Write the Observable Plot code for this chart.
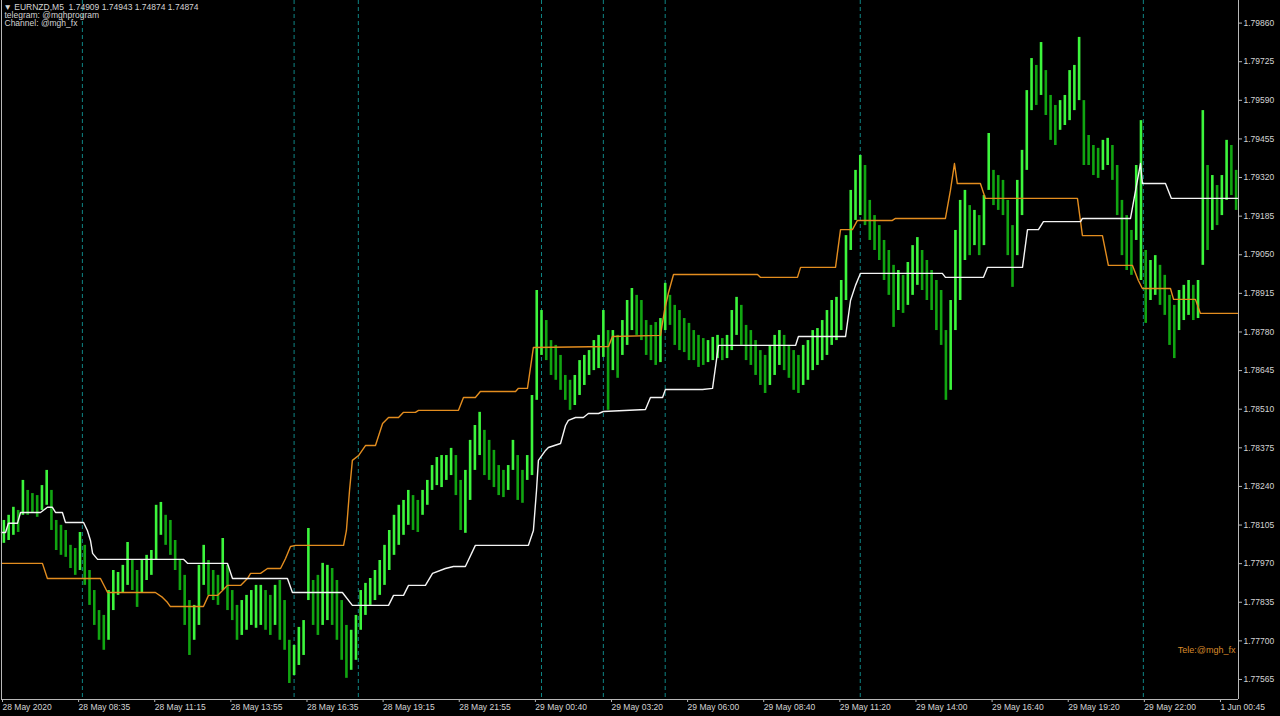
<!DOCTYPE html>
<html>
<head>
<meta charset="utf-8">
<script src="https://cdn.jsdelivr.net/npm/d3@7"></script>
<script src="https://cdn.jsdelivr.net/npm/@observablehq/plot@0.6"></script>
<style>
  html, body { margin: 0; padding: 0; background: #000; overflow: hidden; }
  #chart svg { display: block; }
</style>
</head>
<body>
<div id="chart"></div>
<script>
// ---- Data (EURNZD M5) ----
// Each entry aggregates two M5 bars; bar position = 2*i + 1 (in M5 bar units)
const barHigh = [
1.78121,1.78139,1.78167,1.78156,1.78261,1.78226,1.78215,1.78208,1.78243,1.78296,
1.78226,1.78121,1.78104,1.78086,1.78034,1.78023,1.78079,1.78034,1.77946,1.77876,
1.77806,1.77789,1.77876,1.77946,1.77939,1.77964,1.78044,1.77981,1.77946,1.77981,
1.77999,1.78016,1.78174,1.78184,1.78139,1.78121,1.78051,1.77981,1.77929,1.77841,
1.77824,1.77964,1.78034,1.77981,1.77946,1.77929,1.78058,1.77964,1.77876,1.77824,
1.77841,1.77859,1.77876,1.77894,1.77894,1.77876,1.77859,1.77894,1.77911,1.77841,
1.77702,1.77684,1.77747,1.77771,1.78093,1.77911,1.77929,1.77971,1.77964,1.77953,
1.77911,1.77841,1.77754,1.77737,1.77789,1.77876,1.77901,1.77918,1.77946,1.77981,
1.78034,1.78086,1.78139,1.78174,1.78191,1.78226,1.78208,1.78191,1.78226,1.78261,
1.78313,1.78341,1.78348,1.78348,1.78373,1.78348,1.78261,1.78296,1.78401,1.78453,
1.78499,1.78436,1.78401,1.78366,1.78313,1.78296,1.78313,1.78401,1.78348,1.78296,
1.78348,1.78558,1.78925,1.78855,1.78820,1.78750,1.78733,1.78698,1.78628,1.78611,
1.78628,1.78680,1.78698,1.78715,1.78750,1.78768,1.78855,1.78785,1.78785,1.78768,
1.78820,1.78890,1.78932,1.78908,1.78890,1.78820,1.78803,1.78813,1.78827,1.78950,
1.78908,1.78873,1.78855,1.78827,1.78810,1.78785,1.78768,1.78757,1.78750,1.78761,
1.78768,1.78757,1.78768,1.78855,1.78901,1.78873,1.78803,1.78785,1.78750,1.78715,
1.78698,1.78733,1.78768,1.78785,1.78768,1.78733,1.78715,1.78698,1.78733,1.78750,
1.78785,1.78792,1.78820,1.78855,1.78890,1.78901,1.78960,1.79117,1.79275,1.79345,
1.79397,1.79362,1.79240,1.79187,1.79152,1.79100,1.79065,1.79013,1.78995,1.78978,
1.79023,1.79082,1.79110,1.79065,1.79030,1.78995,1.78960,1.78925,1.78785,1.78890,
1.79135,1.79240,1.79275,1.79222,1.79205,1.79187,1.79257,1.79474,1.79345,1.79327,
1.79310,1.79240,1.79152,1.79310,1.79415,1.79624,1.79736,1.79712,1.79792,1.79694,
1.79607,1.79572,1.79589,1.79607,1.79694,1.79712,1.79810,1.79589,1.79467,1.79432,
1.79422,1.79450,1.79457,1.79432,1.79362,1.79240,1.79187,1.79135,1.79362,1.79519,
1.79065,1.79030,1.79047,1.79013,1.78978,1.78908,1.78873,1.78925,1.78943,1.78960,
1.78943,1.78960,1.79554,1.79362,1.79327,1.79292,1.79327,1.79450,1.79432,1.79345
];
const barLow = [
1.78041,1.78051,1.78069,1.78079,1.78139,1.78139,1.78149,1.78132,1.78156,1.78174,
1.78086,1.78016,1.77999,1.77992,1.77953,1.77929,1.77946,1.77894,1.77824,1.77754,
1.77702,1.77667,1.77702,1.77806,1.77859,1.77869,1.77894,1.77876,1.77817,1.77869,
1.77911,1.77929,1.77981,1.78069,1.78034,1.77999,1.77946,1.77876,1.77754,1.77649,
1.77702,1.77754,1.77894,1.77859,1.77841,1.77824,1.77876,1.77806,1.77771,1.77702,
1.77719,1.77737,1.77754,1.77744,1.77754,1.77737,1.77719,1.77754,1.77702,1.77667,
1.77551,1.77579,1.77614,1.77649,1.77841,1.77754,1.77719,1.77754,1.77771,1.77754,
1.77702,1.77632,1.77569,1.77597,1.77632,1.77737,1.77789,1.77824,1.77841,1.77859,
1.77894,1.77946,1.77999,1.78034,1.78069,1.78104,1.78086,1.78079,1.78139,1.78174,
1.78226,1.78243,1.78236,1.78261,1.78278,1.78208,1.78086,1.78076,1.78191,1.78296,
1.78348,1.78278,1.78261,1.78236,1.78208,1.78201,1.78226,1.78296,1.78191,1.78181,
1.78261,1.78278,1.78541,1.78698,1.78680,1.78628,1.78611,1.78576,1.78541,1.78506,
1.78523,1.78558,1.78593,1.78628,1.78645,1.78652,1.78691,1.78506,1.78645,1.78618,
1.78698,1.78733,1.78785,1.78768,1.78750,1.78698,1.78680,1.78663,1.78673,1.78785,
1.78803,1.78733,1.78715,1.78708,1.78680,1.78680,1.78656,1.78663,1.78673,1.78680,
1.78687,1.78680,1.78687,1.78715,1.78768,1.78733,1.78680,1.78663,1.78628,1.78593,
1.78565,1.78593,1.78628,1.78663,1.78645,1.78618,1.78576,1.78565,1.78593,1.78611,
1.78645,1.78663,1.78680,1.78698,1.78733,1.78750,1.78785,1.78890,1.79065,1.79170,
1.79187,1.79152,1.79100,1.79065,1.79030,1.78960,1.78908,1.78796,1.78855,1.78845,
1.78873,1.78908,1.78943,1.78925,1.78890,1.78855,1.78785,1.78733,1.78541,1.78576,
1.78785,1.78890,1.79030,1.79047,1.79082,1.79047,1.79082,1.79275,1.79222,1.79205,
1.79187,1.79047,1.78936,1.79047,1.79187,1.79345,1.79554,1.79572,1.79607,1.79537,
1.79450,1.79432,1.79485,1.79502,1.79519,1.79554,1.79589,1.79362,1.79362,1.79327,
1.79317,1.79345,1.79362,1.79310,1.79187,1.79047,1.78995,1.78978,1.79100,1.78960,
1.78810,1.78890,1.78908,1.78873,1.78838,1.78733,1.78687,1.78785,1.78820,1.78838,
1.78820,1.78827,1.79013,1.79065,1.79135,1.79152,1.79187,1.79240,1.79257,1.79205
];

// White indicator line: vertices (bar position, price)
const whiteBar = [0,1.7,2.9,6.7,8.0,16.4,19.3,21.4,22.7,25.6,26.9,34.5,36.1,37.4,38.3,40.4,76.5,78.2,95.0,97.1,
  120.2,122.3,143.3,147.5,162.7,164.8,169.0,171.1,178.2,181.2,186.6,190.0,195.0,199.2,221.5,223.6,224.9,225.7,228.7,229.9,
  235.0,237.1,238.3,241.3,244.6,246.7,251.0,253.0,270.7,272.8,277.9,279.1,294.7,298.9,301.4,333.8,335.0,354.8,356.9,359.0,
  361.1,395.5,396.8,412.8,414.5,429.2,431.3,435.9,438.0,453.6,454.4,474.6,477.1,478.8,479.6,489.3,491.8,519.6];
const whitePrice = [1.78079,1.78079,1.78111,1.78111,1.78149,1.78149,1.78167,1.78167,1.78149,1.78149,1.78114,1.78114,1.78086,1.78051,1.78006,1.77985,1.77985,1.77971,1.77971,1.77918,
  1.77918,1.77869,1.77869,1.77824,1.77824,1.77859,1.77859,1.77894,1.77894,1.77936,1.77953,1.77960,1.77960,1.78034,1.78034,1.78086,1.78226,1.78331,1.78366,1.78376,
  1.78390,1.78453,1.78471,1.78481,1.78481,1.78495,1.78495,1.78502,1.78509,1.78551,1.78551,1.78579,1.78579,1.78583,1.78733,1.78733,1.78764,1.78764,1.78890,1.78943,
  1.78985,1.78985,1.78971,1.78971,1.79006,1.79006,1.79138,1.79138,1.79166,1.79166,1.79177,1.79177,1.79292,1.79369,1.79299,1.79299,1.79247,1.79247];

// Orange indicator line: vertices (bar position, price)
const orangeBar = [0,17.2,19.3,41.6,44.6,64.7,67.7,69.8,71.0,84.9,87.0,90.8,92.9,95.0,100.5,103.4,104.7,108.9,111.8,117.3,
  119.4,121.5,123.6,143.8,145.0,146.3,147.5,150.1,153.0,157.2,160.2,162.7,166.9,169.0,174.0,175.3,192.1,194.2,199.2,201.3,
  216.1,217.3,221.1,222.8,223.6,255.2,256.8,277.0,278.7,280.4,282.5,317.8,319.0,334.6,335.9,350.6,352.7,357.7,359.8,374.5,
  375.8,396.8,398.9,400.6,401.8,411.5,413.6,452.3,454.4,462.8,465.3,475.4,477.9,479.6,491.4,492.7,501.9,504.0,519.6];
const orangePrice = [1.77971,1.77971,1.77918,1.77918,1.77869,1.77869,1.77852,1.77834,1.77820,1.77820,1.77859,1.77859,1.77876,1.77894,1.77894,1.77918,1.77936,1.77936,1.77953,1.77953,
  1.77988,1.78030,1.78034,1.78034,1.78086,1.78226,1.78331,1.78348,1.78383,1.78383,1.78460,1.78481,1.78481,1.78499,1.78499,1.78506,1.78506,1.78551,1.78551,1.78572,
  1.78572,1.78583,1.78583,1.78680,1.78726,1.78729,1.78764,1.78768,1.78855,1.78918,1.78981,1.78981,1.78971,1.78971,1.79006,1.79006,1.79138,1.79138,1.79170,1.79170,
  1.79177,1.79177,1.79275,1.79369,1.79299,1.79299,1.79247,1.79247,1.79117,1.79117,1.79013,1.79013,1.78960,1.78932,1.78932,1.78894,1.78894,1.78845,1.78845];

// Vertical dashed event markers (bar positions)
const markerBars = [34, 123, 150, 227, 253, 279, 361, 480];

// Axis ticks
const priceTicks = [1.77565,1.77700,1.77835,1.77970,1.78105,1.78240,1.78375,1.78510,1.78645,1.78780,1.78915,1.79050,1.79185,1.79320,1.79455,1.79590,1.79725,1.79860];
const timeTickBars = [0,32,64,96,128,160,192,224,256,288,320,352,384,416,448,480,512];
const timeLabels = ["28 May 2020","28 May 08:35","28 May 11:15","28 May 13:55","28 May 16:35","28 May 19:15","28 May 21:55","29 May 00:40","29 May 03:20","29 May 06:00","29 May 08:40","29 May 11:20","29 May 14:00","29 May 16:40","29 May 19:20","29 May 22:00","1 Jun 00:45"];

const headerLines = ["\u25BC EURNZD,M5  1.74909 1.74943 1.74874 1.74874", "telegram: @mghprogram", "Channel: @mgh_fx"];
const footerNote = "Tele:@mgh_fx";

// ---- Build tables ----
const bars = barHigh.map((h, i) => {
  const mid = (h + barLow[i]) / 2;
  const prevMid = i > 0 ? (barHigh[i-1] + barLow[i-1]) / 2 : mid;
  return {b: 2 * i + 1, high: h, low: barLow[i], up: mid >= prevMid};
});
const white = whiteBar.map((b, i) => ({b, p: whitePrice[i]}));
const orange = orangeBar.map((b, i) => ({b, p: orangePrice[i]}));
const labelByBar = new Map(timeTickBars.map((b, i) => [b, timeLabels[i]]));

const font = "'Liberation Sans', Arial, sans-serif";
const textColor = "#d4d4d4";
const xDomain = [0, 520];
const yDomain = [1.77495, 1.79939];

const chart = Plot.plot({
  width: 1280,
  height: 716,
  marginTop: 0,
  marginBottom: 17,
  marginLeft: 1,
  marginRight: 42,
  style: {background: "#000", color: textColor, fontFamily: font, fontSize: "8.5px"},
  x: {domain: xDomain, axis: null, label: null},
  y: {domain: yDomain, axis: null, label: null},
  marks: [
    Plot.ruleX(markerBars, {x: d => d, stroke: "#0f8585", strokeWidth: 1, strokeDasharray: "4,3"}),
    Plot.ruleX(bars, {x: "b", y1: "low", y2: "high", stroke: d => d.up ? "#3cf53c" : "#11a511", strokeWidth: 2.6}),
    Plot.line(orange, {x: "b", y: "p", stroke: "#e38d1f", strokeWidth: 1.4}),
    Plot.line(white, {x: "b", y: "p", stroke: "#f4f4f4", strokeWidth: 1.4}),
    Plot.ruleX(xDomain, {stroke: "#b8b8b8", strokeWidth: 1}),
    Plot.ruleY([yDomain[0]], {stroke: "#b8b8b8", strokeWidth: 1}),
    Plot.axisY(priceTicks, {anchor: "right", label: null, tickSize: 3, tickPadding: 2, tickFormat: d => d.toFixed(5), stroke: "#b8b8b8", fill: textColor, fontSize: 8.5}),
    Plot.axisX(timeTickBars, {anchor: "bottom", label: null, tickSize: 3, tickPadding: 1, tickFormat: d => labelByBar.get(d), textAnchor: "start", dx: 1, stroke: "#b8b8b8", fill: textColor, fontSize: 8.5}),
    Plot.text([headerLines[0]], {frameAnchor: "top-left", text: d => d, dx: 2, dy: 7, lineAnchor: "middle", textAnchor: "start", fill: textColor, fontSize: 8.5}),
    Plot.text([headerLines[1]], {frameAnchor: "top-left", text: d => d, dx: 3, dy: 15, lineAnchor: "middle", textAnchor: "start", fill: textColor, fontSize: 8.5}),
    Plot.text([headerLines[2]], {frameAnchor: "top-left", text: d => d, dx: 3, dy: 23, lineAnchor: "middle", textAnchor: "start", fill: textColor, fontSize: 8.5}),
    Plot.text([footerNote], {frameAnchor: "bottom-right", text: d => d, dx: -3, dy: -49, lineAnchor: "middle", textAnchor: "end", fill: "#d98a2a", fontSize: 9})
  ]
});
document.getElementById("chart").appendChild(chart);
</script>
</body>
</html>
